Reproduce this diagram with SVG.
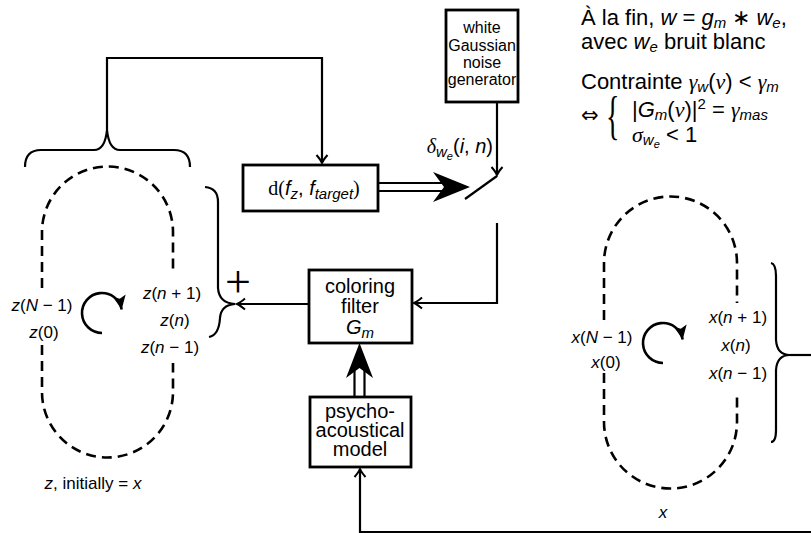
<svg xmlns="http://www.w3.org/2000/svg" width="811" height="533" viewBox="0 0 811 533">
  <style>
    text { font-family: "Liberation Sans", Arial, sans-serif; fill: #000; }
    .i { font-style: italic; }
    .g { font-family: "Liberation Serif", "Times New Roman", serif; font-style: italic; }
    .r { font-family: "Liberation Serif", "Times New Roman", serif; }
    .sym { font-family: "DejaVu Sans", sans-serif; }
    .t { font-size: 22px; }
    .s { font-size: 15px; }
    .ss { font-size: 11px; }
    .lbl { font-size: 17px; }
    .box { fill: #fff; stroke: #000; stroke-width: 2.8; }
    .bt { font-size: 20px; text-anchor: middle; }
    .nt { font-size: 16px; text-anchor: middle; }
    .ln { fill: none; stroke: #000; stroke-width: 2.2; }
    .rot { fill: none; stroke: #000; stroke-width: 2.6; }
    .dash { fill: none; stroke: #000; stroke-width: 2.6; stroke-dasharray: 10 6; }
    .head { fill: #000; stroke: none; }
  </style>
  <defs>
    <marker id="to" viewBox="-10 -7 12 14" refX="0" refY="0" markerWidth="12" markerHeight="14" markerUnits="userSpaceOnUse" orient="auto">
      <path d="M-8,-5.5 Q-3,-1.2 0,0 Q-3,1.2 -8,5.5" fill="none" stroke="#000" stroke-width="2"/>
    </marker>
    <marker id="latex" viewBox="-15 -8 17 16" refX="0" refY="0" markerWidth="17" markerHeight="16" markerUnits="userSpaceOnUse" orient="auto">
      <path d="M-14,-6.5 L0,0 L-14,6.5 L-11,0 Z" fill="#000"/>
    </marker>
  </defs>

  <!-- circular buffer z -->
  <g id="buffer-z">
    <path class="dash" d="M42,288 L42,232 A65.5,65.5 0 0 1 173,232 L173,273"/>
    <path class="dash" d="M42,345 L42,392 A65.5,65.5 0 0 0 173,392 L173,363"/>
    <path class="rot" d="M102,333 A20,20 0 1 1 121.7,309.5" marker-end="url(#latex)"/>
    <text class="lbl" x="42" y="311" text-anchor="middle"><tspan class="i">z</tspan>(<tspan class="i">N</tspan> − 1)</text>
    <text class="lbl" x="44" y="338" text-anchor="middle"><tspan class="i">z</tspan>(0)</text>
    <text class="lbl" x="172" y="299" text-anchor="middle"><tspan class="i">z</tspan>(<tspan class="i">n</tspan> + 1)</text>
    <text class="lbl" x="175" y="326" text-anchor="middle"><tspan class="i">z</tspan>(<tspan class="i">n</tspan>)</text>
    <text class="lbl" x="170" y="353" text-anchor="middle"><tspan class="i">z</tspan>(<tspan class="i">n</tspan> − 1)</text>
    <text class="lbl" x="93" y="489" text-anchor="middle"><tspan class="i">z</tspan>, initially = <tspan class="i">x</tspan></text>
  </g>

  <!-- circular buffer x -->
  <g id="buffer-x">
    <path class="dash" d="M604,320 L604,263 A66.5,66.5 0 0 1 737,263 L737,303"/>
    <path class="dash" d="M604,373 L604,422 A66.5,66.5 0 0 0 737,422 L737,393"/>
    <path class="rot" d="M663,363 A20,20 0 1 1 682.7,339.5" marker-end="url(#latex)"/>
    <text class="lbl" x="602" y="343" text-anchor="middle"><tspan class="i">x</tspan>(<tspan class="i">N</tspan> − 1)</text>
    <text class="lbl" x="606" y="368" text-anchor="middle"><tspan class="i">x</tspan>(0)</text>
    <text class="lbl" x="738" y="323" text-anchor="middle"><tspan class="i">x</tspan>(<tspan class="i">n</tspan> + 1)</text>
    <text class="lbl" x="736" y="351" text-anchor="middle"><tspan class="i">x</tspan>(<tspan class="i">n</tspan>)</text>
    <text class="lbl" x="738" y="379" text-anchor="middle"><tspan class="i">x</tspan>(<tspan class="i">n</tspan> − 1)</text>
    <text class="lbl" x="663" y="518" text-anchor="middle"><tspan class="i">x</tspan></text>
  </g>

  <!-- distance block -->
  <g id="distance">
    <rect class="box" x="243" y="165" width="135" height="46"/>
    <text class="bt" x="314" y="195"><tspan class="r">d(</tspan><tspan class="i">f</tspan><tspan class="i s" dy="4">z</tspan><tspan dy="-4">, </tspan><tspan class="i">f</tspan><tspan class="i s" dy="4">target</tspan><tspan class="r" dy="-4">)</tspan></text>
  </g>

  <!-- noise source -->
  <g id="noise">
    <rect class="box" x="446" y="10" width="72" height="92"/>
    <text class="nt" x="482" y="33">white</text>
    <text class="nt" x="482" y="51">Gaussian</text>
    <text class="nt" x="482" y="68">noise</text>
    <text class="nt" x="482" y="85">generator</text>
  </g>

  <!-- coloring filter -->
  <g id="filter">
    <rect class="box" x="309" y="270" width="103" height="73"/>
    <text class="bt" x="360" y="293">coloring</text>
    <text class="bt" x="360" y="313">filter</text>
    <text class="bt" x="360" y="334"><tspan class="i">G</tspan><tspan class="i s" dy="4">m</tspan></text>
  </g>

  <!-- psycho-acoustical model -->
  <g id="model">
    <rect class="box" x="310" y="397" width="101" height="70"/>
    <text class="bt" x="360" y="418">psycho-</text>
    <text class="bt" x="360" y="437">acoustical</text>
    <text class="bt" x="360" y="456">model</text>
  </g>

  <!-- connectors -->
  <g id="connectors">
    <!-- brace over buffer z, feeding the distance block -->
    <path class="ln" d="M25,167 Q25,150 41,150 L94,150 Q105,150 107,130 Q109,150 120,150 L174,150 Q190,150 190,167"/>
    <path class="ln" d="M107,130 L107,58 L322,58 L322,163" marker-end="url(#to)"/>
    <!-- brace gathering z(n-1..n+1) -->
    <path class="ln" d="M205,187 Q218,188 218,202 L218,288 Q219,303 235,304 Q221,305 220,318 Q219,335 209,337"/>
    <path class="ln" d="M309,304 L237,304" marker-end="url(#to)"/>
    <!-- noise to switch -->
    <path class="ln" d="M497,102 L497,175" marker-end="url(#to)"/>
    <path class="ln" d="M465,199 L497,176"/>
    <!-- switch output to filter -->
    <path class="ln" d="M497,223 L497,303 L414,303" marker-end="url(#to)"/>
    <!-- double arrow: distance controls switch -->
    <path class="ln" d="M378,183 L442,183 M378,191 L442,191"/>
    <polygon class="head" points="470,187 433,172 444,187 433,202"/>
    <!-- double arrow: model to filter -->
    <path class="ln" d="M354.5,397 L354.5,368 M364.5,397 L364.5,368"/>
    <polygon class="head" points="359.5,343 346,378 359.5,368 373,378"/>
    <!-- buffer x to model -->
    <path class="ln" d="M811,532 L360,532 L360,469" marker-end="url(#to)"/>
    <!-- brace gathering x(n-1..n+1) -->
    <path class="ln" d="M771,263 Q776,264 776,276 L776,340 Q777,355 790,355 Q777,355 776,370 L776,430 Q776,442 771,442"/>
    <path class="ln" d="M790,355 L811,355"/>
  </g>

  <!-- summation sign and noise label -->
  <text class="r" x="238" y="297" font-size="46" text-anchor="middle">+</text>
  <text x="493" y="153" font-size="20" text-anchor="end"><tspan class="g">δ</tspan><tspan class="i s" dy="4">w</tspan><tspan class="i ss" dy="3">e</tspan><tspan dy="-7">(</tspan><tspan class="i">i</tspan>, <tspan class="i">n</tspan>)</text>

  <!-- notes -->
  <g id="notes">
    <text class="t" x="581" y="25">À la fin, <tspan class="i">w</tspan> = <tspan class="i">g</tspan><tspan class="i s" dy="3">m</tspan><tspan dy="-3"> ∗ </tspan><tspan class="i">w</tspan><tspan class="i s" dy="3">e</tspan><tspan dy="-3">,</tspan></text>
    <text class="t" x="581" y="49">avec <tspan class="i">w</tspan><tspan class="i s" dy="3">e</tspan><tspan dy="-3"> bruit blanc</tspan></text>
    <text class="t" x="581" y="89">Contrainte <tspan class="g">γ</tspan><tspan class="i s" dy="3">w</tspan><tspan dy="-3">(</tspan><tspan class="g">ν</tspan>) &lt; <tspan class="g">γ</tspan><tspan class="i s" dy="3">m</tspan></text>
    <text class="sym" x="581" y="122" font-size="21">⇔</text>
    <text class="r" x="0" y="0" font-size="28" transform="translate(606,133) scale(1,1.9)">{</text>
    <text class="t" x="632" y="117">|<tspan class="i">G</tspan><tspan class="i s" dy="3">m</tspan><tspan dy="-3">(</tspan><tspan class="g">ν</tspan>)|<tspan class="s" dy="-8">2</tspan><tspan dy="8"> = </tspan><tspan class="g">γ</tspan><tspan class="i s" dy="3">mas</tspan></text>
    <text class="t" x="632" y="142"><tspan class="g">σ</tspan><tspan class="i s" dy="3">w</tspan><tspan class="i ss" dy="3">e</tspan><tspan dy="-6"> &lt; 1</tspan></text>
  </g>
</svg>
